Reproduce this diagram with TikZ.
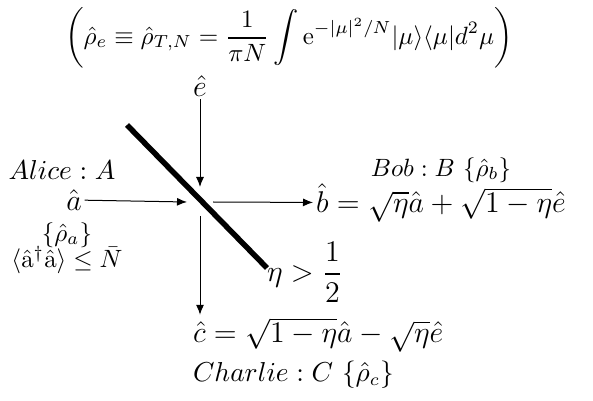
\documentclass[tikz,border=0pt]{standalone}
\usepackage{tikz}
\usetikzlibrary{arrows.meta, positioning, calc}
\usepackage{amsmath}
\usepackage{amssymb}
\tikzset{
  label/.style={inner sep=1pt, font=\fontsize{10.5}{12}\selectfont},
  eqn/.style={inner sep=1pt, font=\fontsize{12.8}{15}\selectfont},
  arrow/.style={-{Latex[length=4pt, width=3.2pt]}, thin},
  splitter/.style={line width=2.2pt},
}

\begin{document}
\begin{tikzpicture}[x=0.4pt, y=0.4pt]
\useasboundingbox (0,0) rectangle (593,400);
% thermal noise input and its state
\node[label, inner sep=0pt, font=\fontsize{10.1}{12}\selectfont] (rhoe) at (289,362) {$\displaystyle\left(\hat\rho_e\equiv\hat\rho_{T,N}=\frac{1}{\pi N}\int \mathrm{e}^{-|\mu|^2/N}|\mu\rangle\langle\mu| d^2\mu\right)$};
\node[eqn] (ehat) at (200,314) {$\hat e$};
% beam splitter
\coordinate (bsc) at (200,198);
\coordinate (bsn) at (200,213);
\coordinate (bsw) at (187,198);
\coordinate (bse) at (213,198);
\coordinate (bss) at (200,184);
\coordinate (bstop) at (127,275);
\coordinate (bsbot) at (267,132);
\draw[splitter] (bstop) -- (bsbot);
\node[label, font=\fontsize{11.5}{14}\selectfont] (eta) at (305,128) {$\eta>\dfrac{1}{2}$};
% Alice
\node[label] (alice) at (62,230) {$Alice:A$};
\node[eqn] (ahat) at (74,200) {$\hat a$};
\node[label, font=\normalsize] (rhoa) at (67,165) {$\{\hat\rho_a\}$};
\node[label, font=\normalsize] (nbar) at (67,140) {$\langle\hat{\mathrm{a}}^\dagger\hat{\mathrm{a}}\rangle\leq\bar N$};
% Bob
\node[eqn, anchor=west] (bhat) at (313,197) {$\hat b=\sqrt{\eta}\hat a+\sqrt{1-\eta}\hat e$};
\node[label, font=\normalsize] (bob) at (441,230) {$Bob:B\ \{\hat\rho_b\}$};
% Charlie
\node[eqn, anchor=west] (chat) at (190,65) {$\hat c=\sqrt{1-\eta}\hat a-\sqrt{\eta}\hat e$};
\node[label, anchor=west, font=\fontsize{10.7}{13}\selectfont] (charlie) at (190,25) {$Charlie:C\ \{\hat\rho_c\}$};
% modes
\draw[arrow] (ehat) -- (bsn);
\draw[arrow] (ahat) -- (bsw);
\draw[arrow] (bse) -- (bhat);
\draw[arrow] (bss) -- (bss |- chat.north);
\end{tikzpicture}
\end{document}
